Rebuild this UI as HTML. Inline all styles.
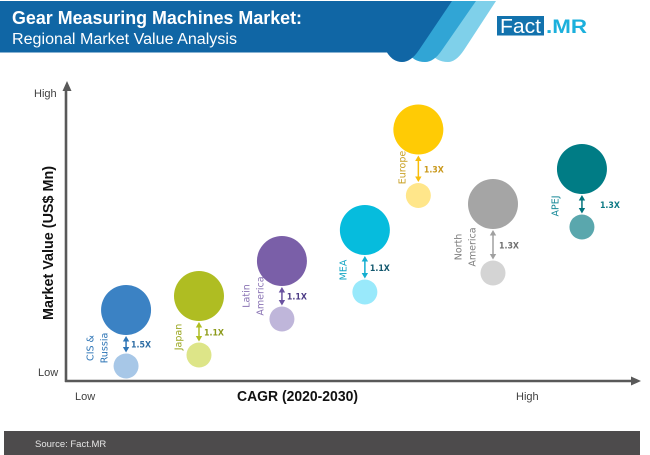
<!DOCTYPE html>
<html lang="en">
<head>
<meta charset="utf-8">
<title>Gear Measuring Machines Market</title>
<style>
html,body{margin:0;padding:0;background:#fff;width:650px;height:455px;overflow:hidden}
svg{display:block}
text{font-family:"Liberation Sans",sans-serif}
</style>
</head>
<body>
<svg id="chart" width="650" height="455" viewBox="0 0 650 455" xmlns="http://www.w3.org/2000/svg">
  <g>
    <path d="M474 1H496L464 50Q456 62 448 62Q436 62 430 52L440 20Z" fill="#7fd0ea"/>
    <path d="M452 1H476L442 50Q434 62 425 62Q413 62 408 52L420 20Z" fill="#31a5d5"/>
    <path d="M0 1H452L419 50Q411 62 402 62Q393 62 387 52.500H0Z" fill="#1066a5"/>
    <text x="12" y="24" font-size="18" font-weight="700" fill="#fff" textLength="290" lengthAdjust="spacingAndGlyphs">Gear Measuring Machines Market:</text>
    <text x="12" y="44" font-size="15.500" fill="#fff" textLength="225" lengthAdjust="spacingAndGlyphs">Regional Market Value Analysis</text>
  </g>
  <g>
    <rect x="497" y="16" width="47" height="19.500" fill="#1272ad"/>
    <text x="500" y="33" font-size="20" fill="#fff" textLength="41" lengthAdjust="spacingAndGlyphs">Fact</text>
    <text x="546" y="33" font-size="19" font-weight="700" fill="#1cb0dc" textLength="41" lengthAdjust="spacingAndGlyphs">.MR</text>
  </g>
  <g id="axes"></g>
  <g id="marks"></g>
  <g>
    <rect x="4" y="431" width="636" height="24" fill="#4d4b4c"/>
    <text x="35" y="447" font-size="9.500" fill="#e6e6e6">Source: Fact.MR</text>
  </g>
</svg>
<script>
// Chart data (on a 0-100 relative axis)
var regions = ["CIS & Russia", "Japan", "Latin America", "MEA", "Europe", "North America", "APEJ"];
var cagrValues = [10.5, 23.25, 37.75, 52.25, 61.6, 74.65, 90.2];
var marketValue2030 = [23.67, 28.33, 40, 50.33, 83.83, 59, 70.67];
var marketValue2020 = [5, 8.67, 20.67, 29.67, 61.83, 36, 51.33];
var multipliers = ["1.5X", "1.1X", "1.1X", "1.1X", "1.3X", "1.3X", "1.3X"];
var axisEndLabels = ["Low", "High"];

// Styling and layout
var bigColors = ["#3b82c4", "#afbd22", "#7a5fa8", "#06bcdd", "#ffcb05", "#a5a5a5", "#007c85"];
var smallColors = ["#a7c7e7", "#dde588", "#bfb6da", "#99e9fb", "#ffe68a", "#d4d4d4", "#5aa7ad"];
var arrowColors = ["#2e75b6", "#afbd22", "#6a52a0", "#13aed0", "#f7bd0a", "#a0a0a0", "#00737c"];
var labelColors = ["#2e75b6", "#9aa61f", "#8a74b4", "#16a6c4", "#c9a227", "#7f7f7f", "#1a8a99"];
var multColors = ["#2e6da4", "#8c9a1a", "#4d3c86", "#13586e", "#c9981a", "#6f6f6f", "#0d7a85"];
var labelLines = [["CIS &", "Russia"], ["Japan"], ["Latin", "America"], ["MEA"], ["Europe"], ["North", "America"], ["APEJ"]];
var labelShiftX = [-22, -21, -22, -22, -16.5, -21, -27];
var labelShiftY = [13, 16, 10, 15, 13, 18, 12];
var multShiftX = [5, 5, 5, 5, 5.5, 6, 18];

var BIG_R = 25, SMALL_R = 12.5, LINE_GAP = 14;
var AXIS_X0 = 66, AXIS_X1 = 638, AXIS_Y0 = 381, AXIS_Y1 = 81;

function xScale(v) { return AXIS_X0 + v / 100 * (AXIS_X1 - AXIS_X0); }
function yScale(v) { return AXIS_Y0 - v / 100 * (AXIS_Y0 - AXIS_Y1); }

var NS = "http://www.w3.org/2000/svg";
function make(parent, tag, attrs, txt) {
  var el = document.createElementNS(NS, tag);
  for (var k in attrs) el.setAttribute(k, attrs[k]);
  if (txt !== undefined) el.textContent = txt;
  parent.appendChild(el);
  return el;
}

var axes = document.getElementById("axes");
var el;
el = make(axes, "line", {x1: AXIS_X0, y1: AXIS_Y0 + 1, x2: AXIS_X0, y2: AXIS_Y1 + 8, stroke: "#595959", "stroke-width": 2.6});


el = make(axes, "polygon", {points: "67,81 62.5,91 71.5,91", fill: "#595959"});


el = make(axes, "line", {x1: AXIS_X0 - 1, y1: AXIS_Y0, x2: 632, y2: AXIS_Y0, stroke: "#595959", "stroke-width": 2.6});


el = make(axes, "polygon", {points: "641,381 631,376.5 631,385.5", fill: "#595959"});



el = make(axes, "text", {x: 34, y: 97, "font-size": 11, fill: "#404040"}, axisEndLabels[1]);


el = make(axes, "text", {x: 38, y: 376, "font-size": 11, fill: "#404040"}, axisEndLabels[0]);


el = make(axes, "text", {x: 75, y: 400, "font-size": 11, fill: "#404040"}, axisEndLabels[0]);


el = make(axes, "text", {x: 516, y: 400, "font-size": 11, fill: "#404040"}, axisEndLabels[1]);


el = make(axes, "text", {x: 237, y: 401, "font-size": 14.5, "font-weight": 700, fill: "#111", textLength: 121, lengthAdjust: "spacingAndGlyphs"}, "CAGR (2020-2030)");


el = make(axes, "text", {transform: "translate(53,320) rotate(-90)", x: 0, y: 0, "font-size": 14.5, "font-weight": 700, fill: "#111", textLength: 154, lengthAdjust: "spacingAndGlyphs"}, "Market Value (US$ Mn)");



var marks = document.getElementById("marks");
regions.forEach(function (name, i) {
  var cx = xScale(cagrValues[i]);
  var yBig = yScale(marketValue2030[i]);
  var ySmall = yScale(marketValue2020[i]);
  var top = yBig + BIG_R + 1;
  var bot = ySmall - SMALL_R - 1;
  var mid = (top + bot) / 2;

  var g = make(marks, "g", {});
  
  

  var big = make(g, "circle", {cx: cx, cy: yBig, r: BIG_R, fill: bigColors[i]});
  
  

  var small = make(g, "circle", {cx: cx, cy: ySmall, r: SMALL_R, fill: smallColors[i]});
  
  

  var shaft = make(g, "line", {x1: cx, y1: top + 4, x2: cx, y2: bot - 4, stroke: arrowColors[i], "stroke-width": 1.5});
  
  

  var headUp = make(g, "polygon", {points: cx + "," + top + " " + (cx - 3.2) + "," + (top + 5.5) + " " + (cx + 3.2) + "," + (top + 5.5), fill: arrowColors[i]});
  
  

  var headDown = make(g, "polygon", {points: cx + "," + bot + " " + (cx - 3.2) + "," + (bot - 5.5) + " " + (cx + 3.2) + "," + (bot - 5.5), fill: arrowColors[i]});
  
  

  var mult = make(g, "text", {x: cx + multShiftX[i], y: mid + 3.5, "font-size": 9, "font-weight": 700, fill: multColors[i], textLength: 20, lengthAdjust: "spacingAndGlyphs", style: "font-family:'DejaVu Sans',sans-serif"}, multipliers[i]);
  
  

  var lines = labelLines[i];
  var labelY = yBig + BIG_R + labelShiftY[i];
  lines.forEach(function (line, j) {
    var lx = cx + labelShiftX[i] - (lines.length - 1 - j) * LINE_GAP + 3.5;
    var t = make(g, "text", {transform: "translate(" + lx + "," + labelY + ") rotate(-90)", x: 0, y: 0, "text-anchor": "middle", "font-size": 9.5, fill: labelColors[i], style: "font-family:'DejaVu Sans',sans-serif"}, line);
    
    
  });
});
</script>
</body>
</html>
